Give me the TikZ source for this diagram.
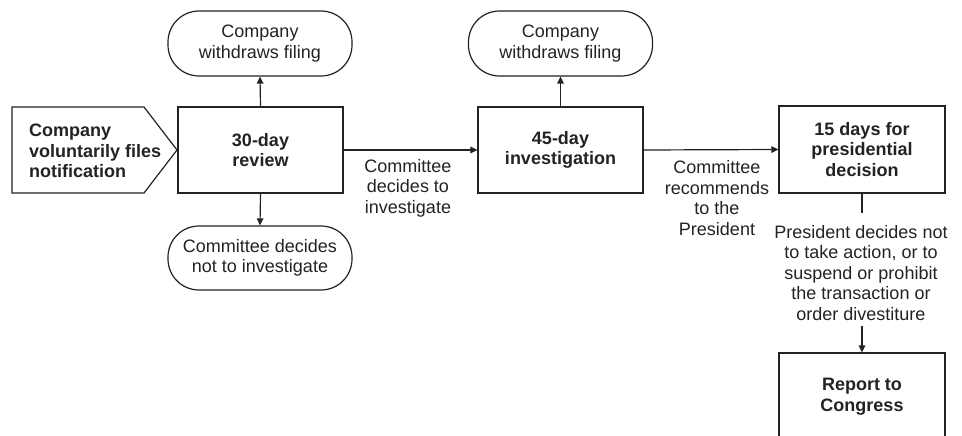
\documentclass[tikz,border=0pt]{standalone}
\usepackage{fontspec}
\setmainfont{Liberation Sans}
\usetikzlibrary{arrows.meta}
\definecolor{ink}{RGB}{35,35,35}
\begin{document}
\begin{tikzpicture}[x=1pt,y=1pt,
  every node/.style={font=\fontsize{18}{20.5}\selectfont, text=ink},
  conn/.style={draw=ink, line width=1.2pt},
  arr/.style={conn, -{Triangle[length=7pt,width=6.5pt]}},
  stepbox/.style={draw=ink, line width=1.2pt, rectangle, minimum width=165pt, minimum height=86pt, align=center, inner sep=2pt, font=\fontsize{18}{20.5}\selectfont\bfseries},
  termbox/.style={draw=ink, line width=1.2pt, rectangle, rounded corners=31pt, minimum width=184pt, minimum height=65pt, align=center, inner sep=2pt},
  lbl/.style={align=center, inner sep=0pt}
]
\useasboundingbox (0,0) rectangle (962,-436);
\clip (0,0) rectangle (962,-436);
\fill[white] (0,0) rectangle (962,-436);

% entry pentagon
\draw[conn, line join=miter] (12,-107) -- (144,-107) -- (177,-150) -- (144,-193) -- (12,-193) -- cycle;
\node[anchor=west, align=left, inner sep=0pt, font=\fontsize{18}{20.5}\selectfont\bfseries] (notify) at (29,-151) {Company\\voluntarily files\\notification};

% boxes
\node[stepbox] (review) at (260.5,-150) {30-day\\review};
\node[stepbox] (invest) at (560.5,-150) {45-day\\investigation};
\node[stepbox, minimum width=166pt, minimum height=87pt] (pres) at (862,-149.5) {15 days for\\presidential\\decision};
\node[stepbox, minimum width=166pt, minimum height=87pt] (report) at (862,-396.5) {Report to\\Congress};

% terminals
\node[termbox] (wd1) at (260,-43.5) {Company\\withdraws filing};
\node[termbox] (wd2) at (560.5,-43.5) {Company\\withdraws filing};
\node[termbox, minimum height=64pt] (noinv) at (260,-258) {Committee decides\\not to investigate};

% labels
\node[lbl] (l1) at (408,-188) {Committee\\decides to\\investigate};
\node[lbl] (l2) at (717,-198) {Committee\\recommends\\to the\\President};
\node[lbl] (l3) at (861,-273) {President decides not\\to take action, or to\\suspend or prohibit\\the transaction or\\order divestiture};

\coordinate (c1) at (862,-213);
\coordinate (c2) at (862,-326);

% connectors
\draw[arr] (review.north) -- (wd1.south);
\draw[arr] (review.south) -- (noinv.north);
\draw[arr] (review.east) -- (invest.west);
\draw[arr] (invest.north) -- (wd2.south);
\draw[arr] (invest.east) -- (pres.west);
\draw[conn] (pres.south) -- (c1);
\draw[arr] (c2) -- (report.north);
\end{tikzpicture}
\end{document}
